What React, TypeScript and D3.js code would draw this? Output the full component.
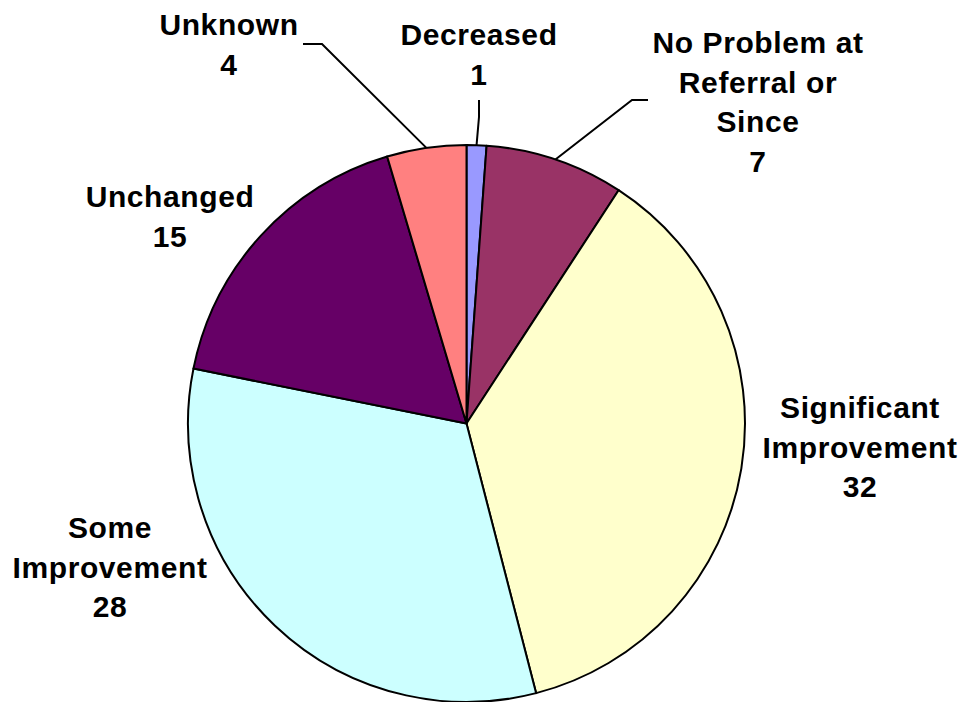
import React from "react";
import * as d3 from "d3";

const categories = ["Decreased", "No Problem at Referral or Since", "Significant Improvement", "Some Improvement", "Unchanged", "Unknown"];
const values = [1, 7, 32, 28, 15, 4];
const colors = ["#9999FF", "#993366", "#FFFFCC", "#CCFFFF", "#660066", "#FF8080"];
const labelLines = [
  ["Decreased"],
  ["No Problem at", "Referral or", "Since"],
  ["Significant", "Improvement"],
  ["Some", "Improvement"],
  ["Unchanged"],
  ["Unknown"],
];

// layout: label block centre (x, first baseline) and optional leader (elbow, end)
const W = 965, H = 702;
const CX = 466.5, CY = 423.5, R = 278.5;
const LINE_H = 39.5;
const labelPos: { x: number; y: number; leader?: [number, number][] }[] = [
  { x: 479, y: 45, leader: [[479, 117], [479, 100]] },
  { x: 758, y: 53, leader: [[632, 100], [648, 100]] },
  { x: 860, y: 418 },
  { x: 110, y: 538 },
  { x: 170, y: 207 },
  { x: 229, y: 35, leader: [[322, 44], [303, 44]] },
];

export default function App() {
  const pie = d3.pie<number>().sort(null).value((d) => d)(values);
  const arc = d3.arc<d3.PieArcDatum<number>>().innerRadius(0).outerRadius(R);
  return (
    <svg width={W} height={H} style={{ position: "fixed", left: 0, top: 0, background: "#fff" }}>
      <g transform={`translate(${CX},${CY})`}>
        {pie.map((p, i) => (
          <path key={i} d={arc(p) || ""} fill={colors[i]} stroke="#000" strokeWidth={2} strokeLinejoin="round" />
        ))}
      </g>
      {pie.map((p, i) => {
        const lp = labelPos[i];
        if (!lp.leader) return null;
        const mid = (p.startAngle + p.endAngle) / 2;
        const sx = CX + R * Math.sin(mid);
        const sy = CY - R * Math.cos(mid);
        const pts: [number, number][] = [[sx, sy], ...lp.leader];
        return <path key={"l" + i} d={d3.line()(pts) || ""} fill="none" stroke="#000" strokeWidth={2} />;
      })}
      {categories.map((c, i) => {
        const lp = labelPos[i];
        const lines = [...labelLines[i], String(values[i])];
        return (
          <text
            key={"t" + i}
            textAnchor="middle"
            fontFamily="'Liberation Sans', Arial, sans-serif"
            fontWeight="bold"
            fontSize={30}
            letterSpacing={0.6}
            fill="#000"
          >
            {lines.map((ln, j) => (
              <tspan key={j} x={lp.x} y={lp.y + j * LINE_H}>
                {ln}
              </tspan>
            ))}
          </text>
        );
      })}
    </svg>
  );
}
